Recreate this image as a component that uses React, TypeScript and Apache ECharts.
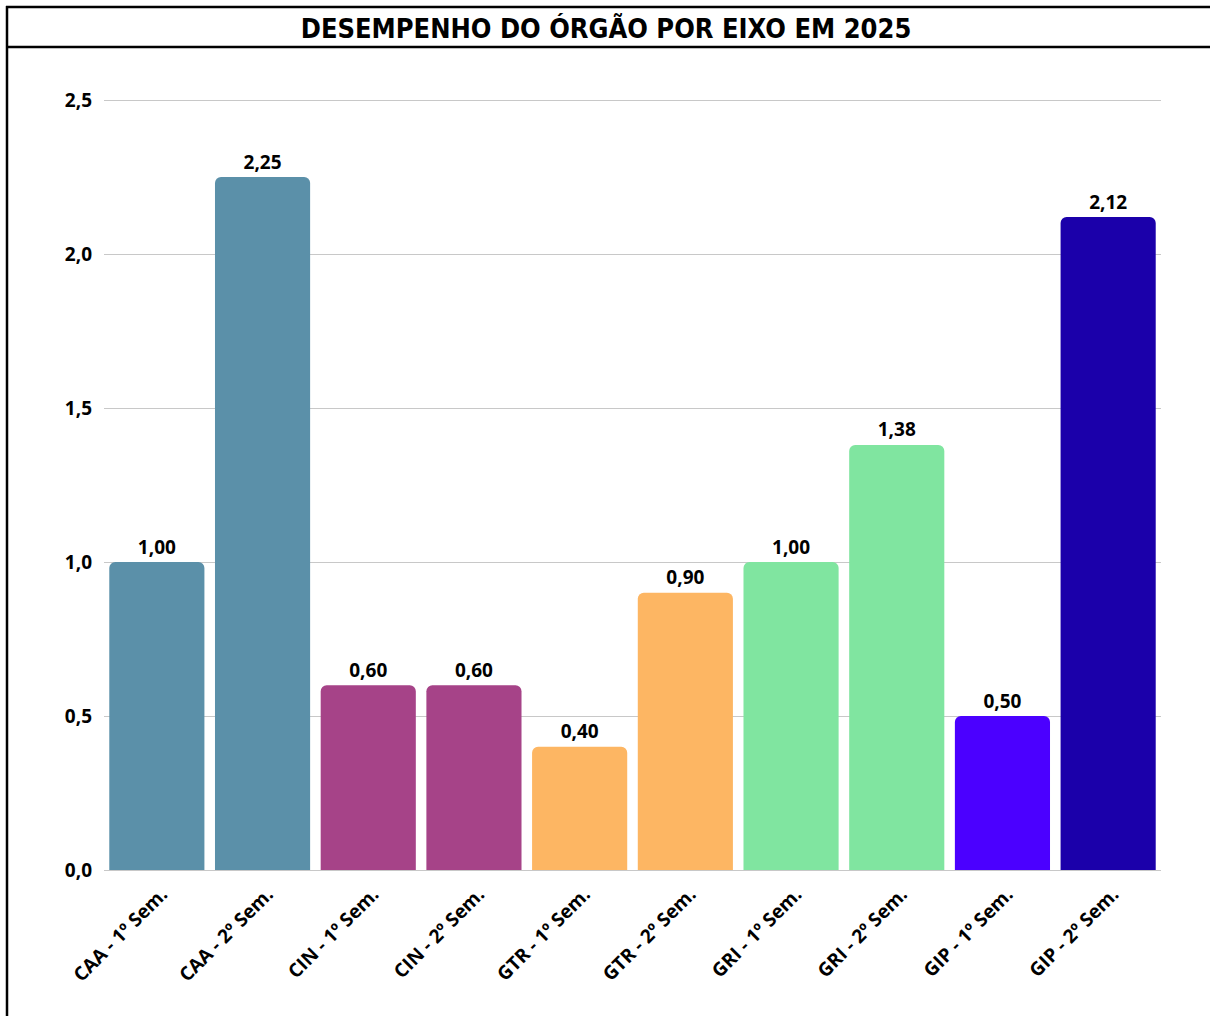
import React, { useEffect, useRef } from "react";
import * as echarts from "echarts";

const title = "DESEMPENHO DO ÓRGÃO POR EIXO EM 2025";
const categories = [
  "CAA - 1º Sem.",
  "CAA - 2º Sem.",
  "CIN - 1º Sem.",
  "CIN - 2º Sem.",
  "GTR - 1º Sem.",
  "GTR - 2º Sem.",
  "GRI - 1º Sem.",
  "GRI - 2º Sem.",
  "GIP - 1º Sem.",
  "GIP - 2º Sem.",
];
const values = [1.0, 2.25, 0.6, 0.6, 0.4, 0.9, 1.0, 1.38, 0.5, 2.12];
const colors = [
  "#5B90A9",
  "#5B90A9",
  "#A64388",
  "#A64388",
  "#FDB663",
  "#FDB663",
  "#80E5A0",
  "#80E5A0",
  "#4B00FF",
  "#1B00AA",
];

const fmt = (v: number, d: number) => v.toFixed(d).replace(".", ",");

export default function App() {
  const ref = useRef<HTMLDivElement>(null);
  useEffect(() => {
    if (!ref.current) return;
    const chart = echarts.init(ref.current, null, { renderer: "svg" });
    const font = "'Open Sans', 'Noto Sans', sans-serif";
    chart.setOption({
      animation: false,
      backgroundColor: "#ffffff",
      textStyle: { fontFamily: font },
      graphic: [
        { type: "line", shape: { x1: 7, y1: 6, x2: 7, y2: 1016 }, style: { stroke: "#000", lineWidth: 2.5 } },
        { type: "line", shape: { x1: 6, y1: 7, x2: 1210, y2: 7 }, style: { stroke: "#000", lineWidth: 2.5 } },
        { type: "line", shape: { x1: 6, y1: 47, x2: 1210, y2: 47 }, style: { stroke: "#000", lineWidth: 2.5 } },
        {
          type: "text",
          x: 606,
          y: 28,
          style: {
            text: title,
            fontFamily: "'Liberation Sans Narrow', 'DejaVu Sans Condensed', sans-serif",
            fontWeight: "bold",
            fontSize: 27,
            fill: "#000",
            align: "center",
            verticalAlign: "middle",
          },
        },
      ],
      grid: { left: 104, right: 49, top: 100, bottom: 146, containLabel: false },
      xAxis: {
        type: "category",
        data: categories,
        axisLine: { show: false },
        axisTick: { show: false },
        axisLabel: {
          interval: 0,
          rotate: 45,
          margin: 14,
          verticalAlign: "top",
          fontSize: 19,
          fontWeight: "bold",
          color: "#000",
          fontFamily: font,
        },
      },
      yAxis: {
        type: "value",
        min: 0,
        max: 2.5,
        interval: 0.5,
        axisLine: { show: false },
        axisTick: { show: false },
        splitLine: { lineStyle: { color: "#c8c8c8", width: 1 } },
        axisLabel: {
          formatter: (v: number) => fmt(v, 1),
          fontSize: 19,
          fontWeight: "bold",
          color: "#000",
          margin: 12,
          fontFamily: font,
        },
      },
      series: [
        {
          type: "bar",
          data: values.map((v, i) => ({ value: v, itemStyle: { color: colors[i] } })),
          barCategoryGap: "10%",
          itemStyle: { borderRadius: [6, 6, 0, 0] },
          label: {
            show: true,
            position: "top",
            distance: 6,
            formatter: (p: any) => fmt(p.value, 2),
            fontSize: 19,
            fontWeight: "bold",
            color: "#000",
            fontFamily: font,
          },
        },
      ],
    });
    return () => chart.dispose();
  }, []);
  return (
    <div
      ref={ref}
      style={{ position: "fixed", left: 0, top: 0, width: 1210, height: 1016, background: "#fff" }}
    />
  );
}
